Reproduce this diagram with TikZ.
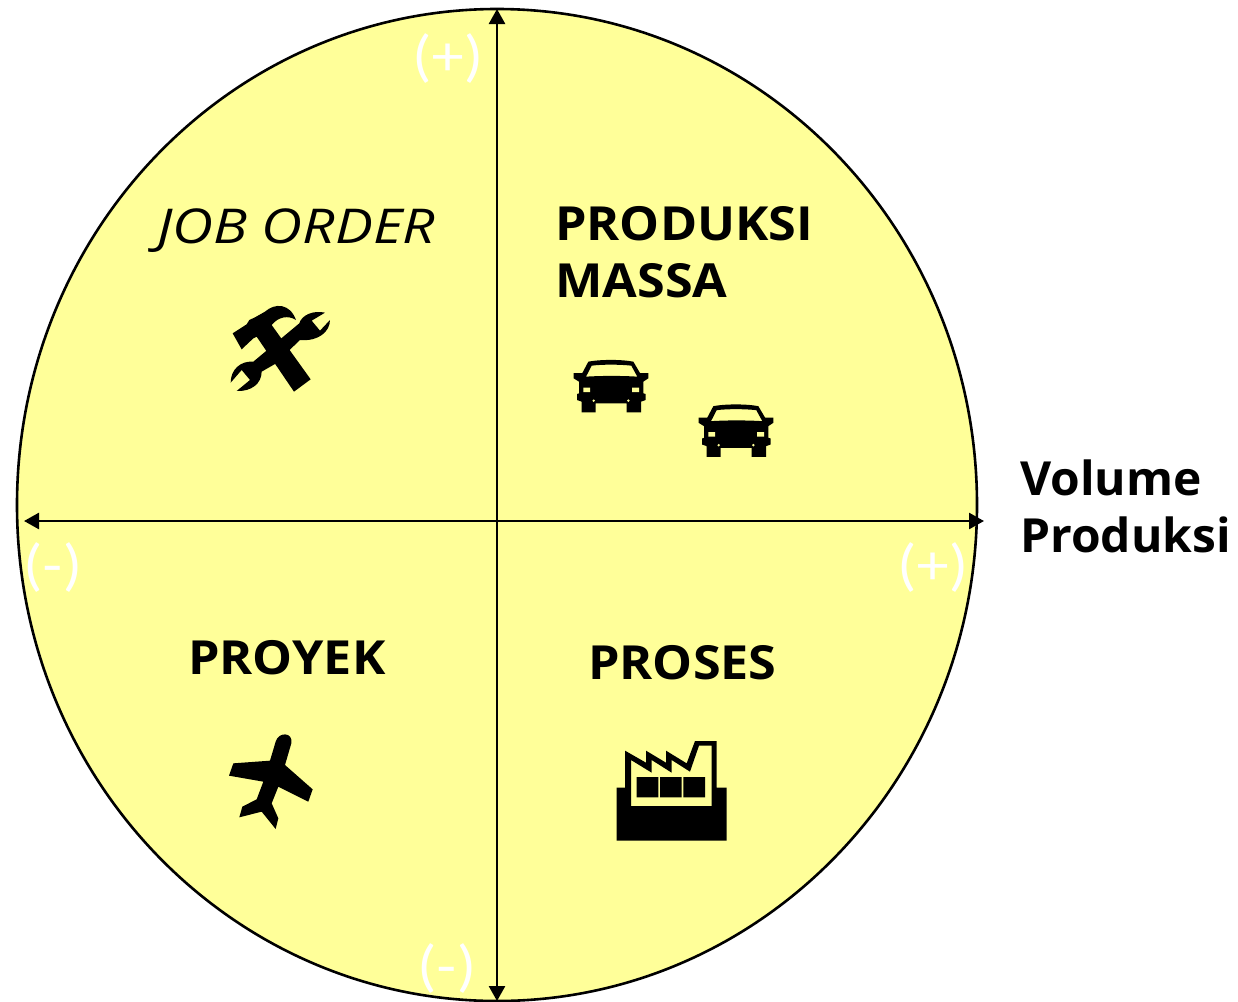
\documentclass[tikz,border=0pt]{standalone}
\usepackage{fontspec}
\setmainfont{Open Sans}
\newfontfamily\signfont{Lato}
\usetikzlibrary{arrows.meta}
\definecolor{paleyellow}{HTML}{FFFF99}
\tikzset{
  axis/.style={line width=2.6pt,{Triangle[length=15pt,width=16pt]}-{Triangle[length=15pt,width=16pt]}},
  lblbase/.style={anchor=base west,inner sep=0pt},
  lbl/.style={lblbase,xscale=1.07,font=\fontsize{47}{47}\selectfont\bfseries},
  lblmixed/.style={lblbase,xscale=1.02,font=\fontsize{47}{47}\selectfont\bfseries},
  lblitalic/.style={lblbase,xscale=1.18,font=\fontsize{48}{48}\selectfont\itshape},
  sign/.style={anchor=base,inner sep=0pt,text=white,xscale=1.12,font=\fontsize{54}{54}\selectfont\signfont},
  icon/.style={x=0.3333pt,y=-0.3333pt,fill=black,even odd rule},
  hole/.style={fill=paleyellow}
}
\newcommand{\carshape}[1]{%
  \begin{scope}[shift={#1},icon]
    \fill (85,50) .. controls (120,43) and (185,43) .. (220,50) -- (240,84) -- (265,84) -- (265,100) -- (250,110) -- (250,145) -- (257,147) -- (257,165) -- (243,170) -- (243,202) -- (200,202) -- (200,175) -- (107,175) -- (107,202) -- (65,202) -- (65,170) -- (51,165) -- (51,147) -- (57,145) -- (57,110) -- (41,100) -- (41,84) -- (67,84) -- cycle
      (78,95) .. controls (125,92) and (185,92) .. (232,95) -- (214,62) .. controls (180,58) and (125,58) .. (95,62) -- cycle;
    \fill[hole] (70,128) rectangle (90,141) (216,128) rectangle (237,141);
    \fill[hole] (101,167) circle (4) (205,167) circle (4);
  \end{scope}}
\begin{document}
\begin{tikzpicture}[x=1pt,y=-1pt]
\useasboundingbox (0,0) rectangle (1238,1001);
\draw[line width=2.6pt,fill=paleyellow] (497,505) ellipse [x radius=480,y radius=496];
\coordinate (west) at (24,521);
\coordinate (east) at (984,521);
\coordinate (north) at (497,9);
\coordinate (south) at (497,1001);
\draw[axis] (west) -- (east);
\draw[axis] (north) -- (south);

\node[lblitalic] (job) at (157,243) {JOB ORDER};
\node[lbl] (prod) at (555,240) {PRODUKSI};
\node[lbl] (massa) at (555,297) {MASSA};
\node[lbl] (proyek) at (188,674) {PROYEK};
\node[lbl] (proses) at (588,679) {PROSES};
\node[lblmixed] (vol) at (1020,495) {Volume};
\node[lblmixed] (prdk) at (1020,552) {Produksi};

\node[sign] (s1) at (448,75) {(+)};
\node[sign] (s2) at (933,584) {(+)};
\node[sign] (s3) at (53,584) {(-)};
\node[sign] (s4) at (447,985) {(-)};

% hammer and wrench
\begin{scope}[shift={(210,290)},icon]
  \fill (68,130) -- (110,103) -- (118,90) -- (135,82) -- (165,65) .. controls (195,38) and (240,40) .. (258,90) .. controls (235,75) and (205,80) .. (185,105) -- (302,268) -- (252,305) -- (140,140) -- (130,145) -- (95,178) -- cycle;
  \fill (345,68) -- (305,92) -- (330,122) -- (360,90) .. controls (360,125) and (325,155) .. (270,150) -- (195,222) -- (155,245) .. controls (155,280) and (125,305) .. (80,303) -- (120,270) -- (95,240) -- (62,278) .. controls (62,240) and (90,212) .. (130,215) -- (268,100) .. controls (275,75) and (310,60) .. (345,68) -- cycle;
\end{scope}

% cars
\carshape{(560,345)}
\carshape{(685,389.5)}

% plane
\begin{scope}[shift={(215,720)},icon]
  \fill (182,65) .. controls (190,35) and (235,35) .. (229,70) -- (210,135) -- (293,208) -- (280,245) -- (190,200) -- (170,250) -- (190,295) -- (182,327) -- (140,275) -- (73,292) -- (82,260) -- (125,238) -- (145,185) -- (42,167) -- (55,130) -- (165,122) -- cycle;
\end{scope}

% factory
\begin{scope}[shift={(600,730)},icon]
  \fill (50,173) -- (75,173) -- (75,62) -- (138,98) -- (138,62) -- (198,98) -- (198,62) -- (260,100) -- (285,33) -- (350,33) -- (350,173) -- (380,173) -- (380,332) -- (50,332) -- cycle
    (93,90) -- (93,228) -- (335,228) -- (335,47) -- (297,47) -- (270,125) -- (215,90) -- (215,128) -- (155,90) -- (155,128) -- cycle;
  \fill (110,141) rectangle (175,202) (180,141) rectangle (245,202) (250,141) rectangle (315,202);
\end{scope}
\end{tikzpicture}
\end{document}
